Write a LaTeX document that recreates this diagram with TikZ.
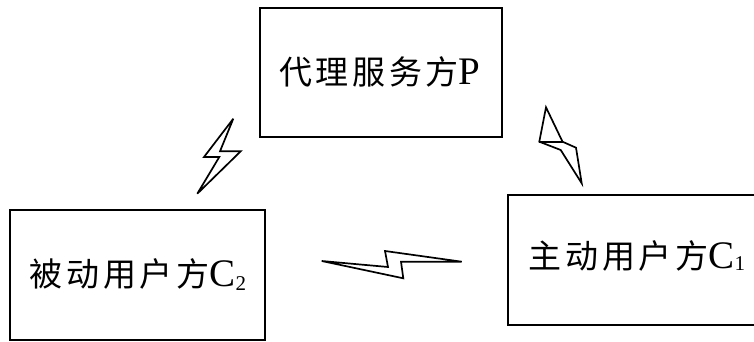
\documentclass[tikz,border=0pt]{standalone}
\usepackage{fontspec}
\setmainfont{Liberation Serif}
\newfontfamily\cjk[LetterSpace=11]{Noto Sans CJK SC}
\newcommand{\cntext}[1]{{\cjk\fontsize{33}{33}\selectfont #1}}
\newcommand{\lttext}[1]{{\fontsize{39}{39}\selectfont #1}}
\newcommand{\subtext}[2]{\raisebox{#1}{\fontsize{21}{21}\selectfont #2}}
\begin{document}
\begin{tikzpicture}[x=1pt,y=-1pt,
  box/.style={draw=black,line width=1.7pt},
  bolt/.style={draw=black,line width=1.7pt,line join=miter,miter limit=6},
  lbl/.style={inner sep=0pt,anchor=center}]
\useasboundingbox (0,0) rectangle (754,342);
\clip (0,0) rectangle (754,342);
% boxes
\draw[box] (260,8) rectangle (502,137);
\draw[box] (10,210) rectangle (265,340);
\draw[box] (508,195) rectangle (770,325);
\coordinate (pbox) at (380,72);
\coordinate (c2box) at (138,275);
\coordinate (c1box) at (637,256);
\node[lbl] (ptext) at (pbox) {\cntext{代理服务方}\lttext{P}};
\node[lbl] (c2text) at (c2box) {\cntext{被动用户方}\lttext{C}\subtext{-4pt}{2}};
\node[lbl] (c1text) at (c1box) {\cntext{主动用户方}\lttext{C}\subtext{-2pt}{1}};
% lightning bolts
\draw[bolt] (233.3,118.7) -- (204,157) -- (219.3,157) -- (197.3,193.7) -- (240.7,151.3) -- (220,151.3) -- cycle;
\coordinate (rl) at (539.3,141.7);
\coordinate (ri) at (562.5,141.7);
\draw[bolt] (546,107.3) -- (rl) -- (560.7,150) -- (581.7,183.3) -- (576,147.7) -- (ri) -- cycle;
\draw[bolt] (rl) -- (ri);
\draw[bolt] (321.7,261) -- (388,267) -- (385,251) -- (461.7,261.7) -- (401,261.7) -- (403.3,278.3) -- cycle;
\end{tikzpicture}
\end{document}
